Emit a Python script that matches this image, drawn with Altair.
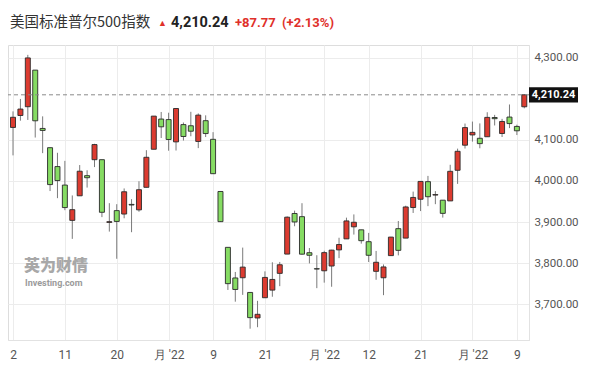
import json
import altair as alt
import pandas as pd

# ---- data (S&P 500 daily) ----
opens = [4130.61, 4159.78, 4181.18, 4270.43, 4128.17, 4081.27, 4035.18, 3990.08, 3903.95, 3963.90,
         4013.02, 4052.00, 4051.98, 3899.00, 3927.76, 3919.42, 3942.94, 3929.59, 3984.60, 4077.43,
         4151.09, 4149.78, 4095.41, 4137.57, 4134.72, 4096.47, 4147.12, 4101.65, 3974.39, 3838.15,
         3763.52, 3764.05, 3728.18, 3665.90, 3715.31, 3733.89, 3774.71, 3821.75, 3920.76, 3913.00,
         3825.09, 3785.99, 3781.00, 3792.61, 3831.98, 3858.85, 3888.26, 3880.94, 3851.95, 3779.67,
         3763.99, 3818.00, 3883.79, 3860.73, 3935.32, 3955.47, 3998.43, 3965.72, 3953.22, 3951.43,
         4026.13, 4087.33, 4112.38, 4104.21, 4107.96, 4154.85, 4115.87, 4155.93, 4133.11, 4181.02]
highs = [4169.81, 4200.10, 4307.66, 4270.43, 4157.69, 4081.27, 4068.82, 4049.09, 3964.80, 4038.88,
         4026.17, 4090.72, 4051.98, 3945.96, 3943.42, 3981.88, 3955.68, 3999.33, 4075.14, 4158.49,
         4168.34, 4166.54, 4177.51, 4142.67, 4168.78, 4164.86, 4160.14, 4119.10, 3974.39, 3838.15,
         3778.18, 3837.56, 3728.18, 3707.71, 3779.65, 3801.79, 3802.58, 3913.65, 3927.72, 3945.86,
         3836.50, 3818.99, 3829.82, 3832.19, 3861.60, 3910.63, 3918.50, 3880.94, 3873.41, 3829.44,
         3796.41, 3863.62, 3902.44, 3939.81, 3974.13, 3999.29, 4012.44, 3975.30, 3953.22, 4039.56,
         4078.95, 4140.15, 4144.95, 4140.47, 4167.66, 4161.29, 4151.58, 4186.62, 4137.30, 4211.03]
lows = [4062.51, 4147.08, 4148.91, 4106.01, 4067.91, 3975.48, 3958.17, 3928.82, 3858.87, 3963.90,
        3983.99, 4033.93, 3911.91, 3876.58, 3810.32, 3909.04, 3875.13, 3925.03, 3984.60, 4077.43,
        4104.88, 4073.85, 4074.37, 4098.67, 4109.18, 4080.19, 4107.20, 4017.17, 3900.16, 3734.30,
        3705.68, 3722.30, 3639.77, 3643.41, 3715.31, 3717.69, 3743.52, 3821.75, 3889.66, 3820.14,
        3799.02, 3738.67, 3752.10, 3742.06, 3811.89, 3858.85, 3869.34, 3847.22, 3802.36, 3759.07,
        3721.56, 3817.18, 3818.63, 3860.73, 3922.03, 3926.63, 3938.66, 3943.46, 3910.74, 3951.43,
        3992.97, 4079.22, 4096.02, 4079.81, 4107.96, 4135.42, 4107.31, 4128.97, 4112.09, 4177.26]
closes = [4155.38, 4175.48, 4300.17, 4146.87, 4123.34, 3991.24, 4001.05, 3935.18, 3930.08, 4023.89,
          4008.01, 4088.85, 3923.68, 3900.79, 3901.36, 3973.75, 3941.48, 3978.73, 4057.84, 4158.24,
          4132.15, 4101.23, 4176.82, 4108.54, 4121.43, 4160.68, 4115.77, 4017.82, 3900.86, 3749.63,
          3735.48, 3789.99, 3666.77, 3674.84, 3764.79, 3759.89, 3795.73, 3911.74, 3900.11, 3821.55,
          3818.83, 3785.38, 3825.33, 3831.39, 3845.08, 3902.62, 3899.38, 3854.43, 3818.80, 3801.78,
          3790.38, 3863.16, 3830.85, 3936.69, 3959.90, 3998.95, 3961.63, 3966.84, 3921.05, 4023.61,
          4072.43, 4130.29, 4118.63, 4091.19, 4155.17, 4151.94, 4145.19, 4140.06, 4122.47, 4210.24]

tick_index = [0, 7, 14, 21, 27, 34, 42, 48, 55, 62, 68]
tick_labels = ["2", "11", "20", "月 '22", "9", "21", "月 '22", "12", "21", "月 '22", "9"]
price_ticks = [3700, 3800, 3900, 4000, 4100, 4300]
last_price = 4210.24
title_name = "美国标准普尔500指数"
title_price = "4,210.24"
title_change = "+87.77"
title_pct = "(+2.13%)"

df = pd.DataFrame({
    "i": list(range(len(opens))),
    "open": opens, "high": highs, "low": lows, "close": closes,
})
df["dir"] = ["up" if c >= o else "down" for o, c in zip(opens, closes)]

W, H = 521, 295
xscale = alt.Scale(domain=[-0.675, 69.635], nice=False, zero=False, padding=0)
yscale = alt.Scale(domain=[3612.2, 4331.7], nice=False, zero=False, padding=0)

label_expr = (json.dumps(tick_labels, ensure_ascii=False) + "[indexof("
              + json.dumps(tick_index) + ", datum.value)]")

base = alt.Chart(df)

wicks = base.mark_rule(color="#7a7a7a", strokeWidth=1).encode(
    x=alt.X("i:Q", scale=xscale,
            axis=alt.Axis(values=tick_index, labelExpr=label_expr, title=None,
                          grid=True, gridColor="#ececec", ticks=False,
                          domainColor="#e2e2e2", labelColor="#555555",
                          labelFont="Roboto", labelFontSize=12, labelPadding=9)),
    y=alt.Y("low:Q", scale=yscale,
            axis=alt.Axis(orient="right", values=price_ticks, format=",.2f", title=None,
                          grid=True, gridColor="#ececec", ticks=False,
                          domainColor="#e2e2e2", labelColor="#555555",
                          labelFont="Roboto", labelFontSize=11.5, labelPadding=5)),
    y2="high:Q",
)

bodies = base.mark_bar(size=5, stroke="#2a2a2a", strokeWidth=0.9).encode(
    x="i:Q",
    y="open:Q",
    y2="close:Q",
    fill=alt.Fill("dir:N", scale=alt.Scale(domain=["up", "down"], range=["#dc3b30", "#86dc63"]),
                  legend=None),
)

last_df = pd.DataFrame({"p": [last_price], "t": [title_price]})
dash = alt.Chart(last_df).mark_rule(color="#8a8a8a", strokeDash=[4, 3], strokeWidth=1).encode(
    y=alt.Y("p:Q", scale=yscale))

tag = alt.Chart(last_df).mark_point(
    shape="M-1,-0.31L1,-0.31L1,0.31L-1,0.31Z", filled=True, color="#111111", opacity=1, size=2401
).encode(y=alt.Y("p:Q", scale=yscale), x=alt.value(W + 24.5))

tag_text = alt.Chart(last_df).mark_text(
    align="center", baseline="middle", color="white", fontWeight="bold",
    font="Roboto", fontSize=11).encode(
    y=alt.Y("p:Q", scale=yscale), x=alt.value(W + 24.5), text="t:N")

# header texts
hdr = pd.DataFrame({
    "t": [title_name, "▲", title_price, title_change, title_pct],
    "x": [2, 150, 163, 227, 274],
    "c": ["#333333", "#e0302a", "#222222", "#e0302a", "#e0302a"],
    "s": [14.5, 9, 14.5, 13, 13],
    "w": ["normal", "normal", "bold", "bold", "bold"],
})
header_layers = []
for _, r in hdr.iterrows():
    header_layers.append(
        alt.Chart(pd.DataFrame({"t": [r["t"]]})).mark_text(
            align="left", baseline="middle", color=r["c"], fontSize=float(r["s"]),
            fontWeight=r["w"], font="Noto Sans CJK SC" if r["t"] == title_name else "Roboto",
        ).encode(text="t:N", x=alt.value(float(r["x"])), y=alt.value(-22))
    )

wm1 = alt.Chart(pd.DataFrame({"t": ["英为财情"]})).mark_text(
    align="left", baseline="middle", color="#9a9a9a", fontSize=16, fontWeight=900,
    font="Noto Sans CJK SC", opacity=0.85).encode(text="t:N", x=alt.value(16), y=alt.value(221))
wm2 = alt.Chart(pd.DataFrame({"t": ["Investing.com"]})).mark_text(
    align="left", baseline="middle", color="#8a8a8a", fontSize=9, fontWeight="bold",
    font="Roboto", opacity=0.85).encode(text="t:N", x=alt.value(17), y=alt.value(238))

chart = alt.layer(wicks, bodies, dash, tag, tag_text, wm1, wm2, *header_layers).properties(
    width=W, height=H,
    autosize=alt.AutoSizeParams(type="none"),
    padding={"left": 0, "top": 37, "right": 63, "bottom": 22},
).configure_view(stroke=None).configure(background="white")

chart.save("out.html", embed_options={"renderer": "svg", "actions": False})
